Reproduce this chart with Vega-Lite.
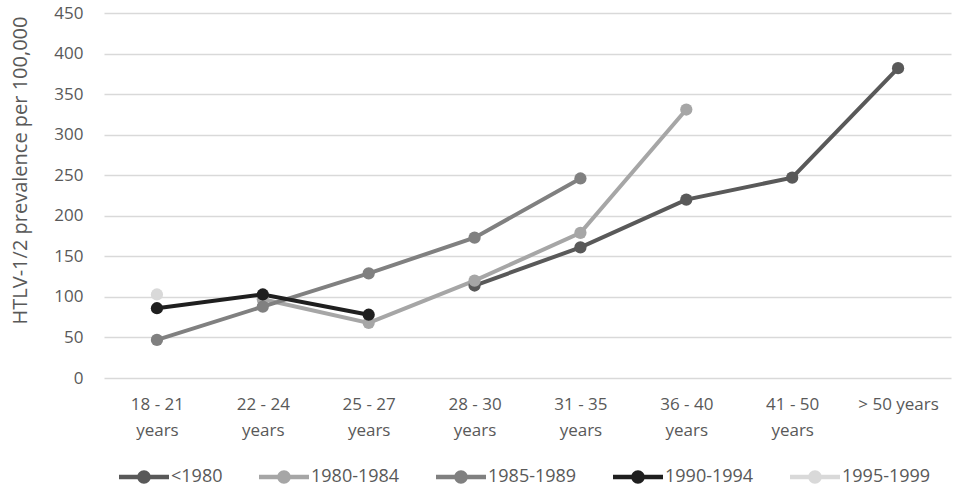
{
  "$schema": "https://vega.github.io/schema/vega-lite/v6.json",
  "width": 847,
  "height": 365,
  "autosize": "none",
  "padding": {"left": 104, "top": 13, "right": 6, "bottom": 113},
  "background": "white",
  "config": {
    "view": {"stroke": null},
    "font": "Open Sans"
  },
  "data": {
    "values": [
      {"age": "28 - 30 years", "cohort": "<1980", "prev": 114},
      {"age": "31 - 35 years", "cohort": "<1980", "prev": 161},
      {"age": "36 - 40 years", "cohort": "<1980", "prev": 220},
      {"age": "41 - 50 years", "cohort": "<1980", "prev": 247},
      {"age": "> 50 years", "cohort": "<1980", "prev": 382},
      {"age": "22 - 24 years", "cohort": "1980-1984", "prev": 97},
      {"age": "25 - 27 years", "cohort": "1980-1984", "prev": 68},
      {"age": "28 - 30 years", "cohort": "1980-1984", "prev": 120},
      {"age": "31 - 35 years", "cohort": "1980-1984", "prev": 179},
      {"age": "36 - 40 years", "cohort": "1980-1984", "prev": 331},
      {"age": "18 - 21 years", "cohort": "1985-1989", "prev": 47},
      {"age": "22 - 24 years", "cohort": "1985-1989", "prev": 88},
      {"age": "25 - 27 years", "cohort": "1985-1989", "prev": 129},
      {"age": "28 - 30 years", "cohort": "1985-1989", "prev": 173},
      {"age": "31 - 35 years", "cohort": "1985-1989", "prev": 246},
      {"age": "18 - 21 years", "cohort": "1990-1994", "prev": 86},
      {"age": "22 - 24 years", "cohort": "1990-1994", "prev": 103},
      {"age": "25 - 27 years", "cohort": "1990-1994", "prev": 78},
      {"age": "18 - 21 years", "cohort": "1995-1999", "prev": 103}
    ]
  },
  "encoding": {
    "x": {
      "field": "age",
      "type": "ordinal",
      "sort": ["18 - 21 years", "22 - 24 years", "25 - 27 years", "28 - 30 years", "31 - 35 years", "36 - 40 years", "41 - 50 years", "> 50 years"],
      "scale": {"type": "point", "padding": 0.5},
      "axis": {
        "title": null,
        "domain": false,
        "ticks": false,
        "labelAngle": 0,
        "labelFontSize": 17,
        "labelColor": "#595959",
        "labelPadding": 18,
        "labelLineHeight": 26,
        "labelExpr": "datum.value == '> 50 years' ? datum.value : [replace(datum.value, ' years', ''), 'years']"
      }
    },
    "y": {
      "field": "prev",
      "type": "quantitative",
      "scale": {"domain": [0, 450], "nice": false},
      "axis": {
        "title": "HTLV-1/2 prevalence per 100,000",
        "titleFontSize": 20,
        "titleFontWeight": "normal",
        "titleColor": "#595959",
        "titleX": -84,
        "titleY": 157,
        "titleAlign": "center",
        "titleBaseline": "middle",
        "values": [0, 50, 100, 150, 200, 250, 300, 350, 400, 450],
        "labelFontSize": 17,
        "labelColor": "#595959",
        "labelPadding": 21,
        "domain": false,
        "ticks": false,
        "gridColor": "#d9d9d9",
        "gridWidth": 1.5
      }
    },
    "color": {
      "field": "cohort",
      "type": "nominal",
      "sort": ["<1980", "1980-1984", "1985-1989", "1990-1994", "1995-1999"],
      "scale": {
        "domain": ["<1980", "1980-1984", "1985-1989", "1990-1994", "1995-1999"],
        "range": ["#595959", "#a6a6a6", "#808080", "#1f1f1f", "#d9d9d9"]
      },
      "legend": {
        "title": null,
        "orient": "none",
        "direction": "horizontal",
        "legendX": 15,
        "legendY": 439,
        "symbolType": "M-1,-0.09 L1,-0.09 L1,0.09 L-1,0.09 Z M-0.27,0 A0.27,0.27 0 1,1 0.27,0 A0.27,0.27 0 1,1 -0.27,0 Z",
        "symbolSize": 2500,
        "symbolStrokeWidth": 0,
        "labelFontSize": 18,
        "labelColor": "#595959",
        "labelOffset": 2,
        "columnPadding": 36,
        "encode": {
          "symbols": {"update": {"fill": {"scale": "color", "field": "value"}, "strokeWidth": {"value": 0}, "opacity": {"value": 1}}}
        }
      }
    }
  },
  "layer": [
    {"mark": {"type": "line", "strokeWidth": 4}},
    {"mark": {"type": "point", "filled": true, "size": 150, "opacity": 1}}
  ]
}
